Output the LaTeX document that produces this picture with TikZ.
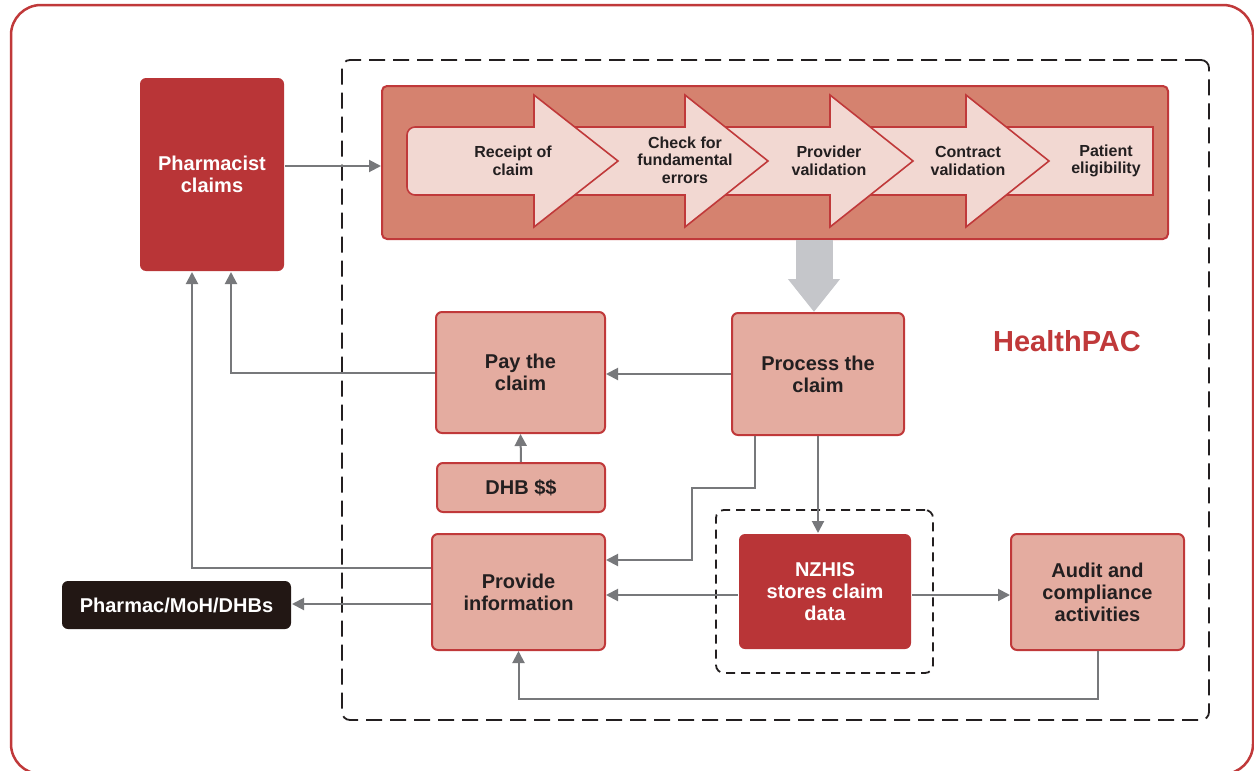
\documentclass[tikz,border=0pt]{standalone}
\usepackage{fontspec}
\setmainfont{Liberation Sans}
\usetikzlibrary{arrows.meta}

\definecolor{framered}{HTML}{C0393A}
\definecolor{darkfill}{HTML}{B93537}
\definecolor{pipefill}{HTML}{D5826F}
\definecolor{chevfill}{HTML}{F2D8D2}
\definecolor{boxpink}{HTML}{E4ACA0}
\definecolor{linegray}{HTML}{77787B}
\definecolor{arrowgray}{HTML}{C5C6CA}
\definecolor{textdark}{HTML}{231F20}
\definecolor{blackbox}{HTML}{221714}

\begin{document}
\begin{tikzpicture}[x=1pt,y=-1pt]
        \tikzstyle{box}=[rectangle, rounded corners=6pt, fill=boxpink, draw=framered, line width=2pt, align=center, inner sep=0pt, font=\bfseries\fontsize{20}{22}\selectfont, text=textdark]
        \tikzstyle{darkbox}=[box, fill=darkfill, draw=none, text=white]
        \tikzstyle{chev}=[fill=chevfill, draw=framered, line width=1.6pt, line join=miter]
        \tikzstyle{chevtext}=[align=center, inner sep=0pt, font=\bfseries\fontsize{16}{17.5}\selectfont, text=textdark]
        \tikzstyle{conn}=[linegray, line width=2pt, -{Triangle[width=12pt,length=12pt]}]

        \useasboundingbox (0,0) rectangle (1254,771);
        \draw[framered, line width=2.5pt, rounded corners=30pt] (11,5) rectangle (1253,774);

        % HealthPAC area
        \node[draw=textdark, line width=1.8pt, dash pattern=on 16pt off 8pt, rounded corners=8pt, minimum width=867pt, minimum height=660pt] (hpac) at (775.5,390) {};
        \node[text=framered, font=\bfseries\fontsize{29}{32}\selectfont] (hname) at (1067,341) {HealthPAC};

        % claim checks
        \node[rectangle, rounded corners=5pt, fill=pipefill, draw=framered, line width=2pt, minimum width=786pt, minimum height=153pt] (pipe) at (775,162.5) {};
        \draw[chev] (982,127) -- (1153,127) -- (1153,195) -- (982,195) -- cycle;
        \foreach \b/\t in {966/1049, 830/913, 685/768}
            \draw[chev] (\b-120,127) -- (\b,127) -- (\b,95) -- (\t,161) -- (\b,227) -- (\b,195) -- (\b-120,195) -- cycle;
        \draw[chev] (470,127) -- (534,127) -- (534,95) -- (618,161) -- (534,227) -- (534,195) -- (470,195) [rounded corners=8pt] -- (407,195) -- (407,127) -- cycle;

        \node[chevtext] (r1) at (513,161) {Receipt of\\claim};
        \node[chevtext] (r2) at (685,160) {Check for\\fundamental\\errors};
        \node[chevtext] (r3) at (829,161) {Provider\\validation};
        \node[chevtext] (r4) at (968,161) {Contract\\validation};
        \node[chevtext] (r5) at (1106,161) {Patient\\eligibility};

        % boxes
        \node[darkbox, minimum width=144pt, minimum height=193pt] (pharm) at (212,174.5) {Pharmacist\\claims};
        \node[box, minimum width=169pt, minimum height=121pt] (pay) at (520.5,372.5) {Pay the\\claim};
        \node[box, minimum width=172pt, minimum height=122pt] (proc) at (818,374) {Process the\\claim};
        \node[box, minimum width=168pt, minimum height=49pt] (dhb) at (521,487.5) {DHB \$\$};
        \node[box, minimum width=173pt, minimum height=116pt] (info) at (518.5,592) {Provide\\information};
        \node[darkbox, minimum width=172pt, minimum height=115pt] (nzhis) at (825,591.5) {NZHIS\\stores claim\\data};
        \node[box, minimum width=173pt, minimum height=116pt] (audit) at (1097.5,592) {Audit and\\compliance\\activities};
        \node[darkbox, fill=blackbox, minimum width=229pt, minimum height=48pt] (pmd) at (176.5,605) {Pharmac/MoH/DHBs};
        \node[draw=textdark, line width=1.8pt, dash pattern=on 9pt off 6pt, rounded corners=8pt, minimum width=217pt, minimum height=163pt] (store) at (824.5,591.5) {};

        % flows
        \draw[conn] ([yshift=8.5pt]pharm.east) -- ([yshift=8.5pt]pharm.east -| pipe.west);
        \draw[arrowgray, line width=37pt, -{Triangle[width=50pt,length=33pt]}] ([xshift=-4pt]proc.north |- pipe.south) -- ([xshift=-4pt]proc.north);
        \draw[conn] (proc.west) -- (proc.west -| pay.east);
        \draw[conn] (dhb.north) -- (pay.south);
        \draw[conn] (pay.west) -| ([xshift=19pt]pharm.south);
        \draw[conn] ([yshift=24pt]info.west) -| ([xshift=-20pt]pharm.south);
        \draw[conn] ([yshift=-12pt]info.west) -- ([yshift=-12pt]info.west -| pmd.east);
        \draw[conn] ([xshift=-63pt]proc.south) -- ++(0,52) -- ++(-63,0) |- ([yshift=32pt]info.east);
        \draw[conn] (proc.south) -- (proc.south |- nzhis.north);
        \draw[conn] ([yshift=-3.5pt]nzhis.west) -- ([yshift=-3.5pt]nzhis.west -| info.east);
        \draw[conn] ([yshift=-3.5pt]nzhis.east) -- ([yshift=-3.5pt]nzhis.east -| audit.west);
        \draw[conn] (audit.south) -- ++(0,48) -| (info.south);
\end{tikzpicture}
\end{document}
